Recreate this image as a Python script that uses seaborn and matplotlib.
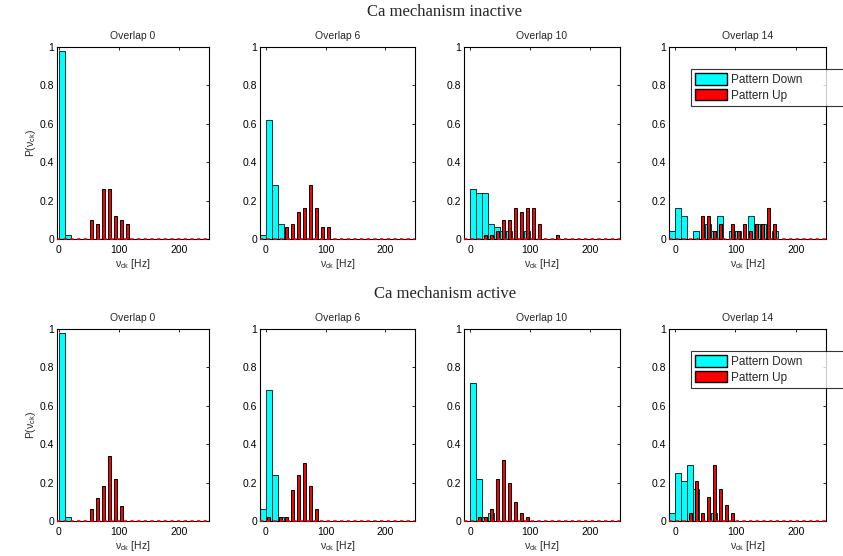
import pandas as pd
import seaborn as sns
import matplotlib
matplotlib.use("Agg")
import matplotlib.pyplot as plt
from matplotlib.patches import Patch

# bin centres (Hz) shared by every histogram
bin_centers = [-5, 5, 15, 25, 35, 45, 55, 65, 75, 85, 95, 105, 115, 125, 135, 145, 155, 165]
overlaps = [0, 6, 10, 14]
row_titles = ["Ca mechanism inactive", "Ca mechanism active"]

# Ca mechanism inactive
inactive_down_ov0 = [0, .98, .02, 0, 0, 0, 0, 0, 0, 0, 0, 0, 0, 0, 0, 0, 0, 0]
inactive_up_ov0 = [0, 0, 0, 0, 0, 0, .10, .08, .26, .26, .12, .10, .08, 0, 0, 0, 0, 0]
inactive_down_ov6 = [.02, .62, .28, .08, 0, 0, 0, 0, 0, 0, 0, 0, 0, 0, 0, 0, 0, 0]
inactive_up_ov6 = [0, 0, 0, 0, .06, .08, .14, .16, .28, .16, .06, .06, 0, 0, 0, 0, 0, 0]
inactive_down_ov10 = [0, .26, .24, .24, .08, .06, .04, .04, 0, 0, .04, 0, 0, 0, 0, 0, 0, 0]
inactive_up_ov10 = [0, 0, 0, .02, .02, .04, .10, .10, .16, .14, .16, .16, .08, 0, 0, .02, 0, 0]
inactive_down_ov14 = [.04, .16, .12, 0, .04, 0, .08, .04, .12, 0, .04, .04, 0, .12, .08, .08, 0, .04]
inactive_up_ov14 = [0, 0, 0, 0, 0, .12, .12, .04, .08, 0, .08, .04, .08, .04, .08, .08, .16, .08]

# Ca mechanism active
active_down_ov0 = [0, .98, .02, 0, 0, 0, 0, 0, 0, 0, 0, 0, 0, 0, 0, 0, 0, 0]
active_up_ov0 = [0, 0, 0, 0, 0, 0, .06, .12, .18, .34, .22, .08, 0, 0, 0, 0, 0, 0]
active_down_ov6 = [.06, .68, .24, .02, 0, 0, 0, 0, 0, 0, 0, 0, 0, 0, 0, 0, 0, 0]
active_up_ov6 = [0, .02, 0, .02, .02, .16, .24, .30, .18, .06, 0, 0, 0, 0, 0, 0, 0, 0]
active_down_ov10 = [0, .72, .22, .02, .04, 0, 0, 0, 0, 0, 0, 0, 0, 0, 0, 0, 0, 0]
active_up_ov10 = [0, 0, .02, .02, .06, .22, .32, .20, .10, .04, .02, 0, 0, 0, 0, 0, 0, 0]
active_down_ov14 = [.042, .25, .208, .292, .167, 0, 0, .042, 0, 0, 0, 0, 0, 0, 0, 0, 0, 0]
active_up_ov14 = [0, 0, 0, .042, .208, .042, .125, .292, .167, .083, .042, 0, 0, 0, 0, 0, 0, 0]

rows = [
    [(inactive_down_ov0, inactive_up_ov0), (inactive_down_ov6, inactive_up_ov6),
     (inactive_down_ov10, inactive_up_ov10), (inactive_down_ov14, inactive_up_ov14)],
    [(active_down_ov0, active_up_ov0), (active_down_ov6, active_up_ov6),
     (active_down_ov10, active_up_ov10), (active_down_ov14, active_up_ov14)],
]

sns.set_theme(style="white")
plt.rcParams["font.family"] = ["Liberation Sans", "DejaVu Sans"]
plt.rcParams["mathtext.fontset"] = "custom"
plt.rcParams["mathtext.rm"] = "Liberation Sans"
plt.rcParams["mathtext.it"] = "Liberation Sans"

W, H = 843, 556
fig = plt.figure(figsize=(W / 100, H / 100), dpi=100)

col_left = [57, 260, 464, 669]
col_width = [152, 155, 156, 157]
row_bottom = [239, 521]
ax_h = 192
title_y = [12, 294]

for r, panels in enumerate(rows):
    fig.text(445 / W, 1 - title_y[r] / H, row_titles[r], ha="center", va="center",
             fontsize=12, family="Liberation Serif")
    for c, (down, up) in enumerate(panels):
        ax = fig.add_axes([col_left[c] / W, 1 - row_bottom[r] / H,
                           col_width[c] / W, ax_h / H])
        df = pd.DataFrame({"f": bin_centers, "down": down, "up": up})
        sns.histplot(data=df, x="f", weights="down", binwidth=10, binrange=(-10, 250),
                     shrink=1.0, color="cyan", edgecolor="#003333", linewidth=0.7,
                     alpha=1, ax=ax)
        sns.histplot(data=df, x="f", weights="up", binwidth=10, binrange=(-10, 250),
                     shrink=0.5, color="red", edgecolor="black", linewidth=0.7,
                     alpha=1, ax=ax)
        # MATLAB-style dashed red baseline of the empty bins
        ax.axhline(0, color="red", lw=1.2, ls=(0, (2, 2)), zorder=3, clip_on=False)
        ax.set_xlim(-3 if c == 0 else -10, 250)
        ax.set_ylim(0, 1)
        ax.set_xticks([0, 100, 200])
        ax.set_yticks([0, .2, .4, .6, .8, 1])
        ax.set_yticklabels(["0", "0.2", "0.4", "0.6", "0.8", "1"])
        ax.tick_params(direction="in", length=2.5, width=0.6, labelsize=7.5,
                       top=True, right=True, pad=2, colors="black")
        ax.tick_params(axis="x", pad=4)
        for s in ax.spines.values():
            s.set_color("black")
            s.set_linewidth(0.8)
            s.set_zorder(2.5)
        ax.set_title(f"Overlap {overlaps[c]}", fontsize=7.5, pad=6)
        ax.set_xlabel(r"$\nu_{\rm ck}$ [Hz]", fontsize=7.5, labelpad=2)
        if c == 0:
            ax.set_ylabel(r"P($\nu_{\rm ck}$)", fontsize=7.5, labelpad=1)
        else:
            ax.set_ylabel("")
        if c == 3:
            handles = [Patch(facecolor="cyan", edgecolor="black", label="Pattern Down"),
                       Patch(facecolor="red", edgecolor="black", label="Pattern Up")]
            leg = ax.legend(handles=handles, loc="upper left",
                            bbox_to_anchor=(0.14, 0.67, 1.3, 0.215), mode="expand",
                            fontsize=8.5, frameon=True, fancybox=False,
                            edgecolor="black", handlelength=2.7, handleheight=1.1,
                            borderpad=0.35, labelspacing=0.25, handletextpad=0.3,
                            borderaxespad=0)
            leg.get_frame().set_linewidth(0.8)

fig.savefig("out.png", dpi=100)
